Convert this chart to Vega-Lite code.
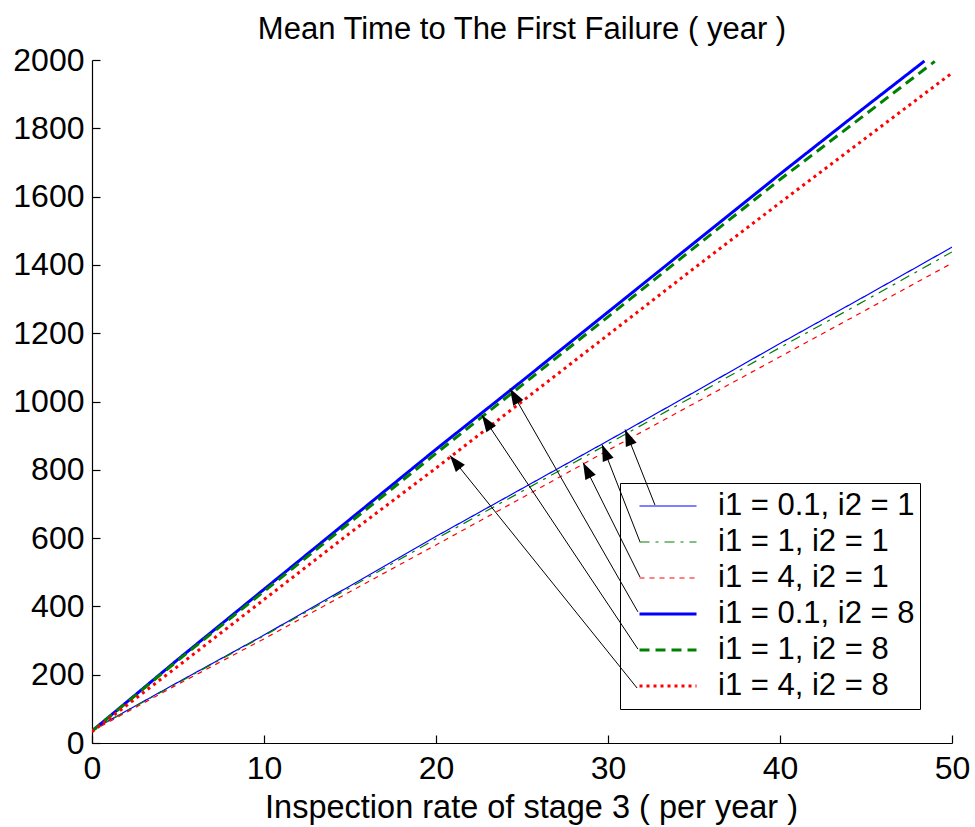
{
  "$schema": "https://vega.github.io/schema/vega-lite/v6.json",
  "width": 860,
  "height": 683,
  "autosize": "none",
  "padding": {"left": 92, "top": 60, "right": 23, "bottom": 84},
  "background": "white",
  "title": {
    "text": "Mean Time to The First Failure ( year )",
    "font": "Liberation Sans",
    "fontSize": 31,
    "fontWeight": "normal",
    "color": "black",
    "anchor": "middle",
    "offset": -2
  },
  "datasets": {
    "curves": [
      {"series": "i1 = 0.1, i2 = 1", "rate": 0, "mttf": 38},
      {"series": "i1 = 0.1, i2 = 1", "rate": 5, "mttf": 178},
      {"series": "i1 = 0.1, i2 = 1", "rate": 10, "mttf": 316},
      {"series": "i1 = 0.1, i2 = 1", "rate": 15, "mttf": 460},
      {"series": "i1 = 0.1, i2 = 1", "rate": 20, "mttf": 605},
      {"series": "i1 = 0.1, i2 = 1", "rate": 25, "mttf": 745},
      {"series": "i1 = 0.1, i2 = 1", "rate": 30, "mttf": 885},
      {"series": "i1 = 0.1, i2 = 1", "rate": 35, "mttf": 1027},
      {"series": "i1 = 0.1, i2 = 1", "rate": 40, "mttf": 1170},
      {"series": "i1 = 0.1, i2 = 1", "rate": 45, "mttf": 1310},
      {"series": "i1 = 0.1, i2 = 1", "rate": 50, "mttf": 1452},
      {"series": "i1 = 1, i2 = 1", "rate": 0, "mttf": 38},
      {"series": "i1 = 1, i2 = 1", "rate": 5, "mttf": 176},
      {"series": "i1 = 1, i2 = 1", "rate": 10, "mttf": 314},
      {"series": "i1 = 1, i2 = 1", "rate": 15, "mttf": 455},
      {"series": "i1 = 1, i2 = 1", "rate": 20, "mttf": 598},
      {"series": "i1 = 1, i2 = 1", "rate": 25, "mttf": 737},
      {"series": "i1 = 1, i2 = 1", "rate": 30, "mttf": 876},
      {"series": "i1 = 1, i2 = 1", "rate": 35, "mttf": 1016},
      {"series": "i1 = 1, i2 = 1", "rate": 40, "mttf": 1158},
      {"series": "i1 = 1, i2 = 1", "rate": 45, "mttf": 1297},
      {"series": "i1 = 1, i2 = 1", "rate": 50, "mttf": 1438},
      {"series": "i1 = 4, i2 = 1", "rate": 0, "mttf": 35},
      {"series": "i1 = 4, i2 = 1", "rate": 5, "mttf": 172},
      {"series": "i1 = 4, i2 = 1", "rate": 10, "mttf": 305},
      {"series": "i1 = 4, i2 = 1", "rate": 15, "mttf": 443},
      {"series": "i1 = 4, i2 = 1", "rate": 20, "mttf": 580},
      {"series": "i1 = 4, i2 = 1", "rate": 25, "mttf": 718},
      {"series": "i1 = 4, i2 = 1", "rate": 30, "mttf": 857},
      {"series": "i1 = 4, i2 = 1", "rate": 35, "mttf": 994},
      {"series": "i1 = 4, i2 = 1", "rate": 40, "mttf": 1131},
      {"series": "i1 = 4, i2 = 1", "rate": 45, "mttf": 1268},
      {"series": "i1 = 4, i2 = 1", "rate": 50, "mttf": 1405},
      {"series": "i1 = 0.1, i2 = 8", "rate": 0, "mttf": 35},
      {"series": "i1 = 0.1, i2 = 8", "rate": 5, "mttf": 245},
      {"series": "i1 = 0.1, i2 = 8", "rate": 10, "mttf": 450},
      {"series": "i1 = 0.1, i2 = 8", "rate": 15, "mttf": 655},
      {"series": "i1 = 0.1, i2 = 8", "rate": 20, "mttf": 860},
      {"series": "i1 = 0.1, i2 = 8", "rate": 25, "mttf": 1060},
      {"series": "i1 = 0.1, i2 = 8", "rate": 30, "mttf": 1262},
      {"series": "i1 = 0.1, i2 = 8", "rate": 35, "mttf": 1464},
      {"series": "i1 = 0.1, i2 = 8", "rate": 40, "mttf": 1666},
      {"series": "i1 = 0.1, i2 = 8", "rate": 45, "mttf": 1864},
      {"series": "i1 = 0.1, i2 = 8", "rate": 48.4, "mttf": 1997},
      {"series": "i1 = 1, i2 = 8", "rate": 0, "mttf": 35},
      {"series": "i1 = 1, i2 = 8", "rate": 5, "mttf": 242},
      {"series": "i1 = 1, i2 = 8", "rate": 10, "mttf": 444},
      {"series": "i1 = 1, i2 = 8", "rate": 15, "mttf": 646},
      {"series": "i1 = 1, i2 = 8", "rate": 20, "mttf": 848},
      {"series": "i1 = 1, i2 = 8", "rate": 25, "mttf": 1048},
      {"series": "i1 = 1, i2 = 8", "rate": 30, "mttf": 1248},
      {"series": "i1 = 1, i2 = 8", "rate": 35, "mttf": 1450},
      {"series": "i1 = 1, i2 = 8", "rate": 40, "mttf": 1650},
      {"series": "i1 = 1, i2 = 8", "rate": 45, "mttf": 1842},
      {"series": "i1 = 1, i2 = 8", "rate": 49, "mttf": 1996},
      {"series": "i1 = 4, i2 = 8", "rate": 0, "mttf": 33},
      {"series": "i1 = 4, i2 = 8", "rate": 5, "mttf": 225},
      {"series": "i1 = 4, i2 = 8", "rate": 10, "mttf": 420},
      {"series": "i1 = 4, i2 = 8", "rate": 15, "mttf": 615},
      {"series": "i1 = 4, i2 = 8", "rate": 20, "mttf": 805},
      {"series": "i1 = 4, i2 = 8", "rate": 25, "mttf": 1000},
      {"series": "i1 = 4, i2 = 8", "rate": 30, "mttf": 1195},
      {"series": "i1 = 4, i2 = 8", "rate": 35, "mttf": 1390},
      {"series": "i1 = 4, i2 = 8", "rate": 40, "mttf": 1582},
      {"series": "i1 = 4, i2 = 8", "rate": 45, "mttf": 1772},
      {"series": "i1 = 4, i2 = 8", "rate": 50, "mttf": 1962}
    ],
    "arrows": [
      {"series": "i1 = 0.1, i2 = 1", "fromRate": 32.73, "fromMttf": 697, "toRate": 30.99, "toMttf": 918, "angle": 338},
      {"series": "i1 = 1, i2 = 1", "fromRate": 31.86, "fromMttf": 589, "toRate": 29.65, "toMttf": 874, "angle": 338},
      {"series": "i1 = 4, i2 = 1", "fromRate": 31.86, "fromMttf": 486, "toRate": 28.55, "toMttf": 821, "angle": 333},
      {"series": "i1 = 0.1, i2 = 8", "fromRate": 31.74, "fromMttf": 384, "toRate": 24.3, "toMttf": 1038, "angle": 330},
      {"series": "i1 = 1, i2 = 8", "fromRate": 31.74, "fromMttf": 275, "toRate": 22.67, "toMttf": 960, "angle": 326},
      {"series": "i1 = 4, i2 = 8", "fromRate": 31.69, "fromMttf": 161, "toRate": 20.81, "toMttf": 842, "angle": 321}
    ]
  },
  "layer": [
    {
      "data": {"name": "curves"},
      "mark": {"type": "line", "clip": true},
      "encoding": {
        "x": {
          "field": "rate",
          "type": "quantitative",
          "scale": {"domain": [0, 50], "nice": false, "zero": false},
          "axis": {
            "title": "Inspection rate of stage 3 ( per year )",
            "values": [0, 10, 20, 30, 40, 50],
            "format": "d",
            "titlePadding": 7,
            "titleFontSize": 32.5,
            "titleX": 439
          }
        },
        "y": {
          "field": "mttf",
          "type": "quantitative",
          "scale": {"domain": [0, 2000], "nice": false},
          "axis": {
            "title": null,
            "values": [0, 200, 400, 600, 800, 1000, 1200, 1400, 1600, 1800, 2000],
            "format": "d",
            "labelPadding": 16
          }
        },
        "color": {
          "field": "series",
          "type": "nominal",
          "scale": {
            "domain": ["i1 = 0.1, i2 = 1", "i1 = 1, i2 = 1", "i1 = 4, i2 = 1", "i1 = 0.1, i2 = 8", "i1 = 1, i2 = 8", "i1 = 4, i2 = 8"],
            "range": ["#0000ff", "#008000", "#ff0000", "#0000ff", "#008000", "#ff0000"]
          },
          "legend": {"orient": "none", "legendX": 528, "legendY": 423, "title": null}
        },
        "strokeDash": {
          "field": "series",
          "type": "nominal",
          "scale": {
            "domain": ["i1 = 0.1, i2 = 1", "i1 = 1, i2 = 1", "i1 = 4, i2 = 1", "i1 = 0.1, i2 = 8", "i1 = 1, i2 = 8", "i1 = 4, i2 = 8"],
            "range": [[1, 0], [10, 6, 3, 6], [5, 5], [1, 0], [10, 6], [3, 4]]
          },
          "legend": {"orient": "none", "legendX": 528, "legendY": 423, "title": null}
        },
        "strokeWidth": {
          "field": "series",
          "type": "nominal",
          "scale": {
            "type": "ordinal",
            "domain": ["i1 = 0.1, i2 = 1", "i1 = 1, i2 = 1", "i1 = 4, i2 = 1", "i1 = 0.1, i2 = 8", "i1 = 1, i2 = 8", "i1 = 4, i2 = 8"],
            "range": [1.2, 1.2, 1.2, 3, 3, 3]
          },
          "legend": {"orient": "none", "legendX": 528, "legendY": 423, "title": null}
        }
      }
    },
    {
      "data": {"name": "arrows"},
      "mark": {"type": "rule", "color": "black", "strokeWidth": 1},
      "encoding": {
        "x": {"field": "fromRate", "type": "quantitative"},
        "y": {"field": "fromMttf", "type": "quantitative"},
        "x2": {"field": "toRate"},
        "y2": {"field": "toMttf"}
      }
    },
    {
      "data": {"name": "arrows"},
      "mark": {
        "type": "point",
        "shape": "M0,0L-0.35,1L0.35,1Z",
        "filled": true,
        "color": "black",
        "opacity": 1,
        "size": 1100,
        "strokeWidth": 0
      },
      "encoding": {
        "x": {"field": "toRate", "type": "quantitative"},
        "y": {"field": "toMttf", "type": "quantitative"},
        "angle": {"field": "angle", "type": "quantitative", "scale": null}
      }
    }
  ],
  "config": {
    "view": {"stroke": null},
    "font": "Liberation Sans",
    "axis": {
      "grid": false,
      "domainColor": "black",
      "domainWidth": 1.2,
      "tickColor": "black",
      "tickSize": -8,
      "tickWidth": 1.2,
      "labelFont": "Liberation Sans",
      "labelFontSize": 32,
      "labelColor": "black",
      "labelPadding": 18,
      "labelFlush": false,
      "labelOverlap": false,
      "titleFont": "Liberation Sans",
      "titleFontSize": 31,
      "titleFontWeight": "normal",
      "titleColor": "black"
    },
    "legend": {
      "symbolType": "stroke",
      "symbolSize": 3249,
      "clipHeight": 36,
      "rowPadding": 0,
      "padding": 5,
      "symbolOffset": 13,
      "labelOffset": 20,
      "labelFont": "Liberation Sans",
      "labelFontSize": 31,
      "labelColor": "black",
      "labelLimit": 400,
      "strokeColor": "black"
    }
  }
}
